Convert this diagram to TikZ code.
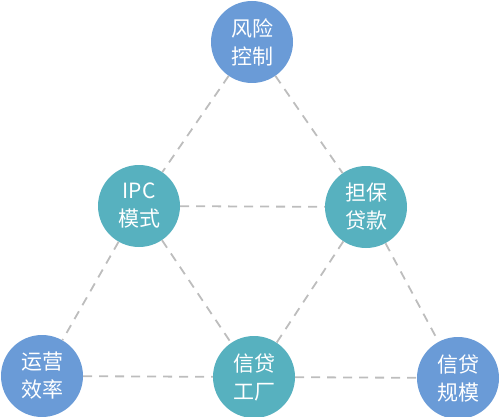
\documentclass[tikz,border=0pt]{standalone}
\usepackage{fontspec}
\setmainfont{Noto Sans CJK SC}
\usetikzlibrary{positioning}
\definecolor{skyblue}{HTML}{6A9BD7}
\definecolor{tealish}{HTML}{57B1BF}
\definecolor{dashgray}{HTML}{BDBDBD}
\begin{document}
\begin{tikzpicture}[x=1pt,y=-1pt,
  every node/.style={font=\fontsize{21}{28}\selectfont,text=white,align=center},
  ball/.style={circle,minimum size=82pt,inner sep=0pt},
  link/.style={draw=dashgray,line width=1.8pt,dash pattern=on 9pt off 7pt}]
\useasboundingbox (0,0) rectangle (500,417);
\node[ball,fill=skyblue] (risk) at (252,42) {风险\\控制};
\node[ball,fill=tealish] (ipc) at (139,206) {IPC\\模式};
\node[ball,fill=tealish] (guar) at (366,207) {担保\\贷款};
\node[ball,fill=skyblue] (ops) at (42,376) {运营\\效率};
\node[ball,fill=tealish] (fac) at (254,377) {信贷\\工厂};
\node[ball,fill=skyblue] (scale) at (458,378) {信贷\\规模};
\foreach \a/\b in {risk/ipc,risk/guar,ipc/guar,ipc/ops,ipc/fac,guar/fac,guar/scale,ops/fac,fac/scale}{
\draw[link] (\a) -- (\b);}
\end{tikzpicture}
\end{document}
